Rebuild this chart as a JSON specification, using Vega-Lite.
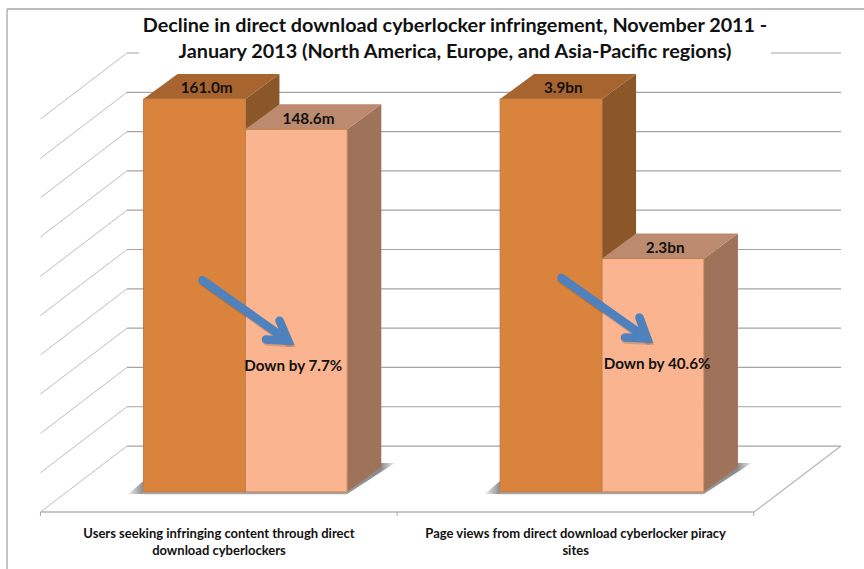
{
"$schema":"https://vega.github.io/schema/vega-lite/v6.json",
"autosize":{"type":"none"},
"width":864,"height":569,"padding":0,"background":"white",
"title":{"text":["Decline in direct download cyberlocker infringement, November 2011 -","January 2013 (North America, Europe, and Asia-Pacific regions)"],"font":"Lato","fontSize":19.8,"fontWeight":"bold","color":"#111111","anchor":"middle","frame":"group","dx":23,"offset":-62,"lineHeight":26},
"config":{"view":{"stroke":null},"axis":{"disable":true},"legend":{"disable":true},"font":"Lato"},
"resolve":{"scale":{"fill":"independent"}},
"datasets":{
"bars":[
{"category":"Users seeking infringing content through direct download cyberlockers","period":"November 2011","cat":0,"ser":0,"index":100,"label":"161.0m"},
{"category":"Users seeking infringing content through direct download cyberlockers","period":"January 2013","cat":0,"ser":1,"index":92.3,"label":"148.6m"},
{"category":"Page views from direct download cyberlocker piracy sites","period":"November 2011","cat":1,"ser":0,"index":100,"label":"3.9bn"},
{"category":"Page views from direct download cyberlocker piracy sites","period":"January 2013","cat":1,"ser":1,"index":59.4,"label":"2.3bn"}],
"grid":[{"tick":0},{"tick":10},{"tick":20},{"tick":30},{"tick":40},{"tick":50},{"tick":60},{"tick":70},{"tick":80},{"tick":90},{"tick":100}],
"cats":[{"cat":0,"line":0,"text":"Users seeking infringing content through direct"},{"cat":0,"line":1,"text":"download cyberlockers"},{"cat":1,"line":0,"text":"Page views from direct download cyberlocker piracy"},{"cat":1,"line":1,"text":"sites"}],
"bounds":[{"bound":0},{"bound":1},{"bound":2}],
"shadowLeft":[{"g":0,"x":-0.152,"lo":-0.51,"hi":-0.51},{"g":0,"x":0,"lo":-0.51,"hi":2.8},{"g":1,"x":3.348,"lo":-0.51,"hi":-0.51},{"g":1,"x":3.5,"lo":-0.51,"hi":2.8}],
"shadowRight":[{"g":0,"x":2,"lo":-0.5,"hi":0},{"g":0,"x":2.331,"lo":5.09,"hi":7.38},{"g":0,"x":2.468,"lo":7.38,"hi":7.38},{"g":1,"x":5.5,"lo":-0.5,"hi":0},{"g":1,"x":5.831,"lo":5.09,"hi":7.38},{"g":1,"x":5.968,"lo":7.38,"hi":7.38}],
"arrows":[
{"arrow":"a1","part":"shaft","o":0,"x":0.579,"y":53.9},{"arrow":"a1","part":"shaft","o":1,"x":1.418,"y":38.5},
{"arrow":"a1","part":"head","o":0,"x":1.335,"y":43.6},{"arrow":"a1","part":"head","o":1,"x":1.418,"y":38.5},{"arrow":"a1","part":"head","o":2,"x":1.202,"y":38.8},
{"arrow":"a2","part":"shaft","o":0,"x":4.102,"y":54.45},{"arrow":"a2","part":"shaft","o":1,"x":4.942,"y":39.06},
{"arrow":"a2","part":"head","o":0,"x":4.867,"y":44.4},{"arrow":"a2","part":"head","o":1,"x":4.942,"y":39.06},{"arrow":"a2","part":"head","o":2,"x":4.725,"y":39.3}],
"notes":[{"text":"Down by 7.7%","x":1.47,"y":32},{"text":"Down by 40.6%","x":5.04,"y":32.6}]
},
"layer":[
{"data":{"values":[{}]},"mark":{"type":"rule","color":"#a6a6a6","strokeWidth":1.3},
 "encoding":{"x":{"datum":-1.339,"type":"quantitative","scale":{"domain":[-1.408,7.071],"nice":false,"zero":false}},"y":{"datum":122.9,"type":"quantitative","scale":{"domain":[-19.59,125.19],"nice":false,"zero":false}},"y2":{"datum":-19.59}}},
{"data":{"values":[{}]},"mark":{"type":"rule","color":"#a6a6a6","strokeWidth":1.3},
 "encoding":{"x":{"datum":-1.339,"type":"quantitative"},"x2":{"datum":7.071},"y":{"datum":122.9,"type":"quantitative"}}},
{"data":{"name":"grid"},"transform":[{"calculate":"datum.tick+11.7","as":"yb"},{"calculate":"datum.tick-5.09","as":"yf"}],
 "mark":{"type":"rule","color":"#bdbdbd","strokeWidth":1},
 "encoding":{"x":{"datum":-1.011,"type":"quantitative"},"x2":{"datum":-0.162},"y":{"field":"yf","type":"quantitative"},"y2":{"field":"yb"}}},
{"data":{"name":"grid"},"transform":[{"calculate":"datum.tick+11.7","as":"yb"}],
 "mark":{"type":"rule","color":"#a3a3a3","strokeWidth":1.2},
 "encoding":{"x":{"datum":-0.162,"type":"quantitative"},"x2":{"datum":6.845},"y":{"field":"yb","type":"quantitative"}}},
{"data":{"values":[{}]},"mark":{"type":"rect","color":"white"},
 "encoding":{"x":{"datum":-0.044,"type":"quantitative"},"x2":{"datum":6.16},"y":{"datum":108.4,"type":"quantitative"},"y2":{"datum":115}}},
{"data":{"values":[{}]},"mark":{"type":"rule","color":"#b5b5b5","strokeWidth":1.2},
 "encoding":{"x":{"datum":5.991,"type":"quantitative"},"x2":{"datum":6.845},"y":{"datum":-5.09,"type":"quantitative"},"y2":{"datum":11.7}}},
{"data":{"values":[{}]},"mark":{"type":"rule","color":"#b5b5b5","strokeWidth":1.4},
 "encoding":{"x":{"datum":-1.011,"type":"quantitative"},"x2":{"datum":5.991},"y":{"datum":-5.09,"type":"quantitative"}}},
{"data":{"name":"bounds"},"transform":[{"calculate":"-1.011+datum.bound*3.5","as":"xt"}],"mark":{"type":"rule","color":"#a6a6a6","strokeWidth":1},
 "encoding":{"x":{"field":"xt","type":"quantitative"},"y":{"datum":-5.09,"type":"quantitative"},"y2":{"datum":-6.1}}},
{"data":{"name":"shadowLeft"},"mark":{"type":"area","color":{"gradient":"linear","x1":0,"x2":1,"y1":0,"y2":0,"stops":[{"offset":0,"color":"#f0f0f0"},{"offset":1,"color":"#8a8a8a"}]}},
 "encoding":{"x":{"field":"x","type":"quantitative"},"y":{"field":"lo","type":"quantitative"},"y2":{"field":"hi"},"detail":{"field":"g"}}},
{"data":{"name":"shadowRight"},"mark":{"type":"area","color":{"gradient":"linear","x1":0,"x2":1,"y1":0,"y2":0,"stops":[{"offset":0,"color":"#999999"},{"offset":0.7,"color":"#8a8a8a"},{"offset":1,"color":"#f0f0f0"}]}},
 "encoding":{"x":{"field":"x","type":"quantitative"},"y":{"field":"lo","type":"quantitative"},"y2":{"field":"hi"},"detail":{"field":"g"}}},
{"data":{"values":[{"g":0,"a":0,"b":2},{"g":1,"a":3.5,"b":5.5}]},"mark":{"type":"rect","color":"#a8a8a8"},
 "encoding":{"x":{"field":"a","type":"quantitative"},"x2":{"field":"b"},"y":{"datum":0,"type":"quantitative"},"y2":{"datum":-0.55}}},
{"data":{"name":"bars"},"transform":[{"calculate":"datum.cat*3.5+datum.ser+1","as":"xfront"},{"calculate":"datum.xfront+0.334","as":"xback"},{"fold":["xfront","xback"],"as":["edge","xp"]},{"calculate":"datum.edge=='xback'?6.38:0","as":"d"},{"calculate":"datum.index+datum.d","as":"yt"}],
 "mark":{"type":"area"},
 "encoding":{"x":{"field":"xp","type":"quantitative"},"y":{"field":"yt","type":"quantitative"},"y2":{"field":"d"},"detail":{"field":"label"},"fill":{"field":"period","type":"nominal","scale":{"domain":["November 2011","January 2013"],"range":["#8b5628","#9f735a"]}}}},
{"data":{"name":"bars"},"transform":[{"calculate":"datum.cat*3.5+datum.ser","as":"x0"},{"calculate":"datum.index","as":"yfront"},{"calculate":"datum.index+6.38","as":"yback"},{"fold":["yfront","yback"],"as":["edge","yp"]},{"calculate":"datum.edge=='yback'?0.334:0","as":"d"},{"calculate":"datum.x0+datum.d","as":"xl"},{"calculate":"datum.x0+1+datum.d","as":"xr"}],
 "mark":{"type":"area","orient":"horizontal"},
 "encoding":{"y":{"field":"yp","type":"quantitative"},"x":{"field":"xl","type":"quantitative"},"x2":{"field":"xr"},"detail":{"field":"label"},"fill":{"field":"period","type":"nominal","scale":{"domain":["November 2011","January 2013"],"range":["#a8642f","#bc8a6e"]}}}},
{"data":{"name":"bars"},"transform":[{"calculate":"datum.cat*3.5+datum.ser","as":"x0"},{"calculate":"datum.x0+1","as":"x1"}],
 "mark":{"type":"rect","strokeWidth":1,"stroke":"#bd7f50"},
 "encoding":{"x":{"field":"x0","type":"quantitative"},"x2":{"field":"x1"},"y":{"field":"index","type":"quantitative"},"y2":{"datum":0},"fill":{"field":"period","type":"nominal","scale":{"domain":["November 2011","January 2013"],"range":["#da833c","#fbb490"]}}}},
{"data":{"name":"bars"},"transform":[{"calculate":"datum.cat*3.5+datum.ser+0.62","as":"xl"},{"calculate":"datum.index+2.7","as":"yl"}],
 "mark":{"type":"text","font":"Lato","fontSize":15.3,"fontWeight":"bold","color":"#111111","baseline":"middle","align":"center"},
 "encoding":{"x":{"field":"xl","type":"quantitative"},"y":{"field":"yl","type":"quantitative"},"text":{"field":"label"}}},
{"data":{"name":"arrows"},"mark":{"type":"line","color":"#222222","opacity":0.18,"strokeWidth":8.5,"strokeJoin":"miter","strokeCap":"round","xOffset":1,"yOffset":2},
 "encoding":{"x":{"field":"x","type":"quantitative"},"y":{"field":"y","type":"quantitative"},"order":{"field":"o"},"detail":[{"field":"arrow"},{"field":"part"}]}},
{"data":{"name":"arrows"},"mark":{"type":"line","color":"#4f81bd","strokeWidth":8.5,"strokeJoin":"miter","strokeCap":"round"},
 "encoding":{"x":{"field":"x","type":"quantitative"},"y":{"field":"y","type":"quantitative"},"order":{"field":"o"},"detail":[{"field":"arrow"},{"field":"part"}]}},
{"data":{"name":"notes"},"mark":{"type":"text","font":"Lato","fontSize":15.2,"fontWeight":"bold","color":"#111111","baseline":"middle","align":"center"},
 "encoding":{"x":{"field":"x","type":"quantitative"},"y":{"field":"y","type":"quantitative"},"text":{"field":"text"}}},
{"data":{"name":"cats"},"transform":[{"calculate":"0.741+datum.cat*3.5","as":"xc"},{"calculate":"-11.7-datum.line*4.3","as":"yc"}],
 "mark":{"type":"text","font":"Lato","fontSize":13,"fontWeight":"bold","color":"#111111","baseline":"alphabetic","align":"center"},
 "encoding":{"x":{"field":"xc","type":"quantitative"},"y":{"field":"yc","type":"quantitative"},"text":{"field":"text"}}}
]
}
